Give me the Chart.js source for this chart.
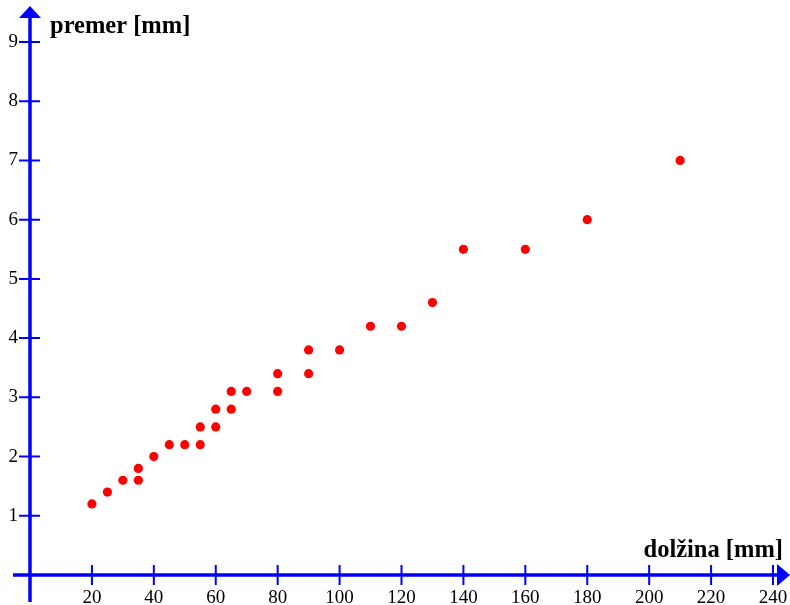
<!DOCTYPE html>
<html>
<head>
<meta charset="utf-8">
<script src="https://cdn.jsdelivr.net/npm/chart.js@4/dist/chart.umd.min.js"></script>
<style>
  html, body { margin: 0; padding: 0; background: #fff; }
  #wrap { width: 790px; height: 605px; }
</style>
</head>
<body>
<div id="wrap"><canvas id="chart"></canvas></div>
<script>
// dolžina [mm] and premer [mm] readings
var lengths   = [20, 25, 30, 35, 35, 40, 45, 50, 55, 55, 60, 60, 65, 65, 70, 80, 80, 90, 90, 100, 110, 120, 130, 140, 160, 180, 210];
var diameters = [1.2, 1.4, 1.6, 1.6, 1.8, 2.0, 2.2, 2.2, 2.2, 2.5, 2.5, 2.8, 2.8, 3.1, 3.1, 3.1, 3.4, 3.4, 3.8, 3.8, 4.2, 4.2, 4.6, 5.5, 5.5, 6.0, 7.0];
var xTicks = [20, 40, 60, 80, 100, 120, 140, 160, 180, 200, 220, 240];
var yTicks = [1, 2, 3, 4, 5, 6, 7, 8, 9];
var xTitle = 'dolžina [mm]';
var yTitle = 'premer [mm]';

var blue = '#0000ff';
var serif = '"Liberation Serif", "Times New Roman", serif';

var points = lengths.map(function(v, i) { return { x: v, y: diameters[i] }; });

// draws the blue axes with arrows and cross ticks, plus the axis titles
var axesPlugin = {
    id: 'axesPlugin',
    beforeDatasetsDraw: function(chart) {
        var ctx = chart.ctx;
        var xs = chart.scales.x, ys = chart.scales.y;
        var x0 = xs.getPixelForValue(0);
        var y0 = ys.getPixelForValue(0);
        var W = chart.width, H = chart.height;
        ctx.save();
        ctx.strokeStyle = blue;
        ctx.fillStyle = blue;

        // axis lines
        ctx.lineWidth = 3.5;
        ctx.beginPath();
        ctx.moveTo(13, y0); ctx.lineTo(W - 10, y0);
        ctx.moveTo(x0, 17); ctx.lineTo(x0, H - 3);
        ctx.stroke();

        // arrow heads
        ctx.beginPath();
        ctx.moveTo(W, y0); ctx.lineTo(W - 13, y0 - 11); ctx.lineTo(W - 13, y0 + 11); ctx.closePath();
        ctx.fill();
        ctx.beginPath();
        ctx.moveTo(x0, 6); ctx.lineTo(x0 - 11, 18); ctx.lineTo(x0 + 11, 18); ctx.closePath();
        ctx.fill();

        // cross ticks
        ctx.lineWidth = 2;
        ctx.beginPath();
        xTicks.forEach(function(v) {
            var px = xs.getPixelForValue(v);
            ctx.moveTo(px, y0 - 10); ctx.lineTo(px, y0 + 10);
        });
        yTicks.forEach(function(v) {
            var py = ys.getPixelForValue(v);
            ctx.moveTo(x0 - 11, py); ctx.lineTo(x0 + 10, py);
        });
        ctx.stroke();

        // axis titles
        ctx.fillStyle = '#000';
        ctx.font = 'bold 24.5px ' + serif;
        ctx.textBaseline = 'alphabetic';
        ctx.textAlign = 'left';
        ctx.fillText(yTitle, 50, 33);
        ctx.textAlign = 'right';
        ctx.fillText(xTitle, 783, 557);
        ctx.restore();
    }
};

new Chart(document.getElementById('chart'), {
    type: 'scatter',
    data: {
        datasets: [{
            data: points,
            backgroundColor: '#ff0000',
            borderWidth: 0,
            pointRadius: 4.6,
            pointHoverRadius: 4.6
        }]
    },
    options: {
        responsive: true,
        maintainAspectRatio: false,
        animation: false,
        events: [],
        layout: { padding: { top: 42, right: 17, left: 0, bottom: 0 } },
        plugins: { legend: { display: false }, tooltip: { enabled: false } },
        scales: {
            x: {
                type: 'linear',
                min: 0,
                max: 240,
                afterFit: function(scale) {
                    scale.height = 30;
                    scale.paddingLeft = 0;
                    scale.paddingRight = 0;
                },
                afterBuildTicks: function(scale) {
                    scale.ticks = xTicks.map(function(v) { return { value: v }; });
                },
                grid: { display: false, drawTicks: false, tickLength: 0 },
                border: { display: false },
                ticks: {
                    color: '#000',
                    padding: 12,
                    maxRotation: 0,
                    autoSkip: false,
                    font: { family: serif, size: 19 }
                }
            },
            y: {
                type: 'linear',
                min: 0,
                max: 9,
                afterFit: function(scale) {
                    scale.width = 30;
                    scale.paddingTop = 0;
                    scale.paddingBottom = 0;
                },
                afterBuildTicks: function(scale) {
                    scale.ticks = yTicks.map(function(v) { return { value: v }; });
                },
                grid: { display: false, drawTicks: false, tickLength: 0 },
                border: { display: false },
                ticks: {
                    color: '#000',
                    padding: 12,
                    autoSkip: false,
                    font: { family: serif, size: 19 }
                }
            }
        }
    },
    plugins: [axesPlugin]
});
</script>
</body>
</html>
